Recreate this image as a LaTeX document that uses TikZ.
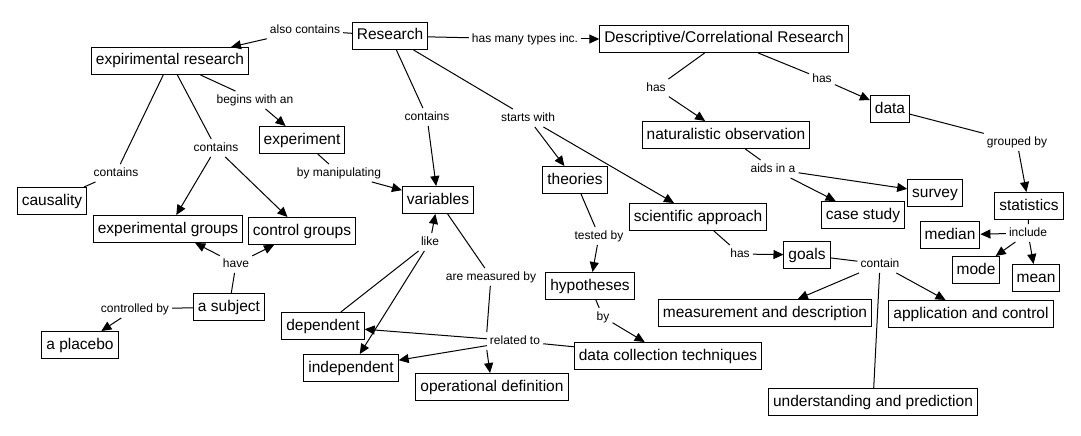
\documentclass[tikz,border=0pt]{standalone}
\usepackage{fontspec}
\setmainfont{Liberation Sans}
\usetikzlibrary{arrows.meta}
\begin{document}
\begin{tikzpicture}[x=1pt,y=-1pt,
  concept/.style={draw,line width=1pt,rectangle,inner xsep=4.5pt,inner ysep=0pt,minimum height=27pt,text height=11.5pt,text depth=3.5pt,font=\fontsize{15.5}{18}\selectfont},
  linkph/.style={inner sep=3pt,text height=9pt,text depth=2.5pt,font=\fontsize{12}{14}\selectfont},
  link/.style={draw,line width=1pt},
  >={Triangle[length=10pt,width=9pt]}]
\useasboundingbox (0,0) rectangle (1081,436);
\node[concept] (research) at (390,36) {Research};
\node[concept] (expres) at (170,61) {expirimental research};
\node[concept] (experiment) at (302,140) {experiment};
\node[concept] (causality) at (52,201) {causality};
\node[concept] (variables) at (438,200) {variables};
\node[concept] (expgroups) at (168,229) {experimental groups};
\node[concept] (ctrlgroups) at (302,231) {control groups};
\node[concept] (subject) at (229,307) {a subject};
\node[concept] (placebo) at (80,345) {a placebo};
\node[concept] (dependent) at (323,326) {dependent};
\node[concept] (independent) at (351,368) {independent};
\node[concept] (opdef) at (492,387) {operational definition};
\node[concept] (theories) at (575,180) {theories};
\node[concept] (sciappr) at (698,217) {scientific approach};
\node[concept] (hypotheses) at (590,286) {hypotheses};
\node[concept] (datacoll) at (668,356) {data collection techniques};
\node[concept] (goals) at (807,255) {goals};
\node[concept] (measdesc) at (765,313) {measurement and description};
\node[concept] (descres) at (724,39) {Descriptive/Correlational Research};
\node[concept] (natobs) at (726,135) {naturalistic observation};
\node[concept] (casestudy) at (863,215) {case study};
\node[concept] (survey) at (935,193) {survey};
\node[concept] (data) at (890,109) {data};
\node[concept] (statistics) at (1029,206) {statistics};
\node[concept] (median) at (950,235) {median};
\node[concept] (mode) at (976,270) {mode};
\node[concept] (mean) at (1036,278) {mean};
\node[concept] (appctrl) at (971,314) {application and control};
\node[concept] (undpred) at (873,402) {understanding and prediction};
\node[linkph] (alsocont) at (305,30) {also contains};
\node[linkph] (hasmany) at (525,39) {has many types inc.};
\node[linkph] (beginswith) at (255,100) {begins with an};
\node[linkph] (contvar) at (427,117) {contains};
\node[linkph] (startswith) at (528,118) {starts with};
\node[linkph] (contgroups) at (216,148) {contains};
\node[linkph] (contcaus) at (116,173) {contains};
\node[linkph] (bymanip) at (339,173) {by manipulating};
\node[linkph] (hasnat) at (656,88) {has};
\node[linkph] (hasdata) at (822,79) {has};
\node[linkph] (aidsin) at (773,169) {aids in a};
\node[linkph] (groupedby) at (1017,142) {grouped by};
\node[linkph] (include) at (1028,233) {include};
\node[linkph] (contain) at (880,264) {contain};
\node[linkph] (hasgoals) at (740,254) {has};
\node[linkph] (testedby) at (599,236) {tested by};
\node[linkph] (by) at (603,317) {by};
\node[linkph] (measuredby) at (491,277) {are measured by};
\node[linkph] (relatedto) at (515,341) {related to};
\node[linkph] (like) at (430,242) {like};
\node[linkph] (have) at (236,264) {have};
\node[linkph] (controlledby) at (135,309) {controlled by};
\path[link,-] (research) -- (alsocont);
\path[link,->] (alsocont) -- (expres);
\path[link,-] (research) -- (hasmany);
\path[link,->] (hasmany) -- (descres);
\path[link,-] (research) -- (contvar);
\path[link,->] (contvar) -- (variables);
\path[link,-] (research) -- (startswith);
\path[link,->] (startswith) -- (theories);
\path[link,->] (startswith) -- (sciappr);
\path[link,-] (expres) -- (beginswith);
\path[link,->] (beginswith) -- (experiment);
\path[link,-] (expres) -- (contgroups);
\path[link,->] (contgroups) -- (expgroups);
\path[link,->] (contgroups) -- (ctrlgroups);
\path[link,-] (expres) -- (contcaus);
\path[link,-] (contcaus) -- (causality);
\path[link,-] (experiment) -- (bymanip);
\path[link,->] (bymanip) -- (variables);
\path[link,-] (subject) -- (have);
\path[link,->] (have) -- (expgroups);
\path[link,->] (have) -- (ctrlgroups);
\path[link,-] (subject) -- (controlledby);
\path[link,->] (controlledby) -- (placebo);
\path[link,->] (like) -- (variables);
\path[link,-] (dependent) -- (like);
\path[link,->] (like) -- (independent);
\path[link,-] (variables) -- (measuredby);
\path[link,-] (measuredby) -- (relatedto.north west);
\path[link,->] (relatedto.south west) -- (opdef);
\path[link,->] (relatedto) -- (dependent);
\path[link,->] (relatedto) -- (independent);
\path[link,-] (datacoll) -- (relatedto);
\path[link,-] (theories) -- (testedby);
\path[link,->] (testedby) -- (hypotheses);
\path[link,-] (hypotheses) -- (by);
\path[link,->] (by) -- (datacoll);
\path[link,-] (sciappr) -- (hasgoals);
\path[link,->] (hasgoals) -- (goals);
\path[link,-] (goals) -- (contain);
\path[link,->] (contain) -- (measdesc);
\path[link,->] (contain) -- (appctrl);
\path[link,-] (contain) -- (undpred);
\path[link,-] (descres) -- (hasnat);
\path[link,->] (hasnat) -- (natobs);
\path[link,-] (descres) -- (hasdata);
\path[link,->] (hasdata) -- (data);
\path[link,-] (natobs) -- (aidsin);
\path[link,->] (aidsin) -- (casestudy);
\path[link,->] (aidsin) -- (survey);
\path[link,-] (data) -- (groupedby);
\path[link,->] (groupedby) -- (statistics);
\path[link,-] (statistics) -- (include);
\path[link,->] (include) -- (median);
\path[link,->] (include) -- (mode);
\path[link,->] (include) -- (mean);
\end{tikzpicture}
\end{document}
